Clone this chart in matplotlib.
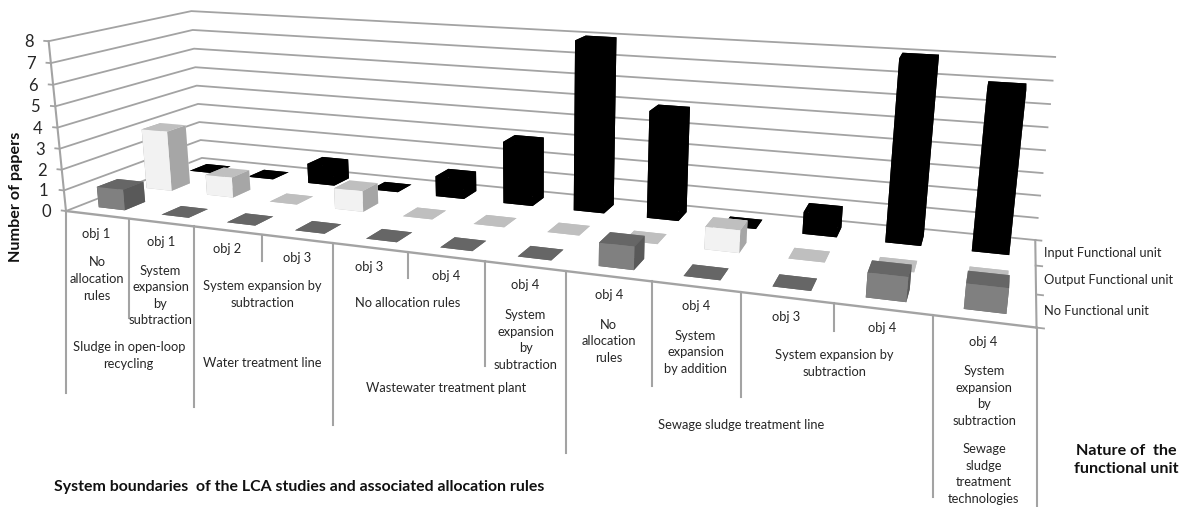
import numpy as np
import matplotlib
matplotlib.use("Agg")
from matplotlib import pyplot as plt
from matplotlib.lines import Line2D

plt.rcParams["font.family"] = ["Lato", "DejaVu Sans"]

W, H = 1185, 507

series_names = ["No Functional unit", "Output Functional unit", "Input Functional unit"]
no_unit = [1, 0, 0, 0, 0, 0, 0, 1, 0, 0, 1, 1]
output_unit = [3, 1, 0, 1, 0, 0, 0, 0, 1, 0, 0, 0]
input_unit = [0, 0, 1, 0, 1, 3, 8, 5, 0, 1, 8, 7]
objectives = ["obj 1", "obj 1", "obj 2", "obj 3", "obj 3", "obj 4",
              "obj 4", "obj 4", "obj 4", "obj 3", "obj 4", "obj 4"]
y_ticks = list(range(9))

# faces in bar3d order: bottom, top, front, back, left, right
grey_faces = ["#666666", "#666666", "#808080", "#808080", "#595959", "#595959"]
white_faces = ["#bfbfbf", "#bfbfbf", "#f2f2f2", "#f2f2f2", "#a6a6a6", "#a6a6a6"]
black_faces = ["#000000"] * 6
line_col = "#a3a3a3"
text_col = "#262626"

bar_w = 0.42
bar_d = 0.42
# front-left and front-right of a bar in chart units, used for the view fit below
fl = (1 - bar_w) / 2
fr = (1 + bar_w) / 2

# where known points of the box sit in the picture: (cat, series, value) -> pixel
calib = [
    ((0, 0, 0), (66, 210)), ((0, 0, 8), (48, 42)), ((0, 3, 8), (191, 12)),
    ((0, 3, 0), (201, 158)), ((12, 3, 0), (1035.7, 240)), ((12, 3, 8), (1055, 60)),
    ((12, 0, 0), (1035.7, 328.3)), ((3, 0, 0), (262.3, 235)), ((6, 0, 0), (485, 262.7)),
    ((9, 0, 0), (740.3, 293.3)), ((12, 1, 0), (1035.7, 294)), ((12, 2, 0), (1035.7, 266)),
    ((12, 3, 4), (1045, 152.3)), ((0, 3, 4), (196, 86)),
    ((0 + fl, fl, 0), (98, 207)), ((0 + fr, fl, 0), (124, 209)), ((0 + fl, fl, 1), (98, 187)),
    ((0 + fl, 1 + fl, 0), (148, 187)), ((0 + fr, 1 + fl, 0), (171, 190)), ((0 + fl, 1 + fl, 3), (143, 130)),
    ((6 + fl, 2 + fl, 0), (575, 210)), ((6 + fr, 2 + fl, 0), (604, 212.7)), ((6 + fl, 2 + fl, 8), (576, 43)),
    ((10 + fl, 2 + fl, 0), (886.7, 242.3)), ((10 + fr, 2 + fl, 0), (920, 246)),
    ((10 + fl, 2 + fl, 8), (900, 57)), ((10 + fr, 2 + fl, 8), (937, 58)),
    ((11 + fl, 2 + fl, 0), (973, 252)), ((11 + fr, 2 + fl, 0), (1007, 255)),
    ((11 + fl, 2 + fl, 7), (988, 84)), ((11 + fr, 2 + fl, 7), (1024, 87)),
    ((11 + fl, fl, 0), (965, 309)), ((11 + fr, fl, 0), (1005.7, 314)),
    ((11 + fl, fl, 1), (968, 285)), ((11 + fr, fl, 1), (1008, 288)),
]

fig = plt.figure(figsize=(W / 100, H / 100), dpi=100)
# Axes3D always keeps a square box, so make it as wide as the figure
ax = fig.add_axes([0, (1 - W / H) / 2, 1, W / H], projection="3d", computed_zorder=False)
ax.apply_aspect()
ax.set_axis_off()

to_2d = ax.transData.inverted()
rows = []
for (x, y, z), (px, py) in calib:
    u, v = to_2d.transform((px, H - py))
    rows.append([x, y, z, 1, 0, 0, 0, 0, -u * x, -u * y, -u * z, -u])
    rows.append([0, 0, 0, 0, x, y, z, 1, -v * x, -v * y, -v * z, -v])
P = np.linalg.svd(np.array(rows))[2][-1].reshape(3, 4)
if P[2, 3] < 0:
    P = -P
M = np.array([P[0], P[1], [0, 0, 0, -1], P[2]])
ax.get_proj = lambda: M


def to_px(x, y, z):
    w = P @ np.array([x, y, z, 1])
    u, v = ax.transData.transform(w[:2] / w[2])
    return u, H - v


def label(px, py, s, **kw):
    kw.setdefault("fontsize", 9.3)
    kw.setdefault("color", text_col)
    kw.setdefault("ha", "center")
    fig.text(px / W, 1 - py / H, s, va="center", linespacing=1.45, **kw)


# walls and floor
for k in y_ticks:
    ax.plot([-0.07, 0, 0, 12], [0, 0, 3, 3], [k, k, k, k], color=line_col, lw=1.3, zorder=1)
    px, py = to_px(0, 0, k)
    label(px - 20, py + 1, str(k), fontsize=12)
ax.plot([0, 0], [0, 0], [0, 8], color=line_col, lw=1.5, zorder=1)
ax.plot([0, 12], [0, 0], [0, 0], color=line_col, lw=1.7, zorder=2)
ax.plot([12, 12], [0, 3], [0, 0], color=line_col, lw=1.5, zorder=2)
for j in range(4):
    ax.plot([12, 12.07], [j, j], [0, 0], color=line_col, lw=1.3, zorder=2)

# bars, back series first
all_series = [(2, input_unit, black_faces), (1, output_unit, white_faces), (0, no_unit, grey_faces)]
for s, values, faces in all_series:
    for i, v in enumerate(values):
        ax.bar3d(i + fl, s + fl, 0, bar_w, bar_d, v,
                 color=faces, shade=False, zorder=10 + (2 - s) * 20 + i)

# multi-level category separators under the front edge
sep_bottom = [393, 318, 407, 261, 425, 278, 366, 453, 386, 397, 331, 497, 507]
for i, bottom in enumerate(sep_bottom):
    px, py = to_px(i, 0, 0)
    fig.add_artist(Line2D([px, px], [H - py, H - bottom], transform=None,
                          color=line_col, lw=1.5))

obj_x = [96.5, 161, 227, 297.5, 369.5, 446, 525, 608.7, 695.7, 786, 882, 983]
obj_y = [234, 241.7, 249.3, 257.7, 266.7, 276, 285, 295, 306, 317, 328, 341.7]
for px, py, s in zip(obj_x, obj_y, objectives):
    label(px, py, s)

rule_labels = [
    (97, 279, "No\nallocation\nrules"),
    (160.5, 295.7, "System\nexpansion\nby\nsubtraction"),
    (262.5, 294.3, "System expansion by\nsubtraction"),
    (408, 302.7, "No allocation rules"),
    (525.7, 340, "System\nexpansion\nby\nsubtraction"),
    (608.7, 341.3, "No\nallocation\nrules"),
    (695.7, 352.3, "System\nexpansion\nby addition"),
    (834, 363.3, "System expansion by\nsubtraction"),
    (984, 396, "System\nexpansion\nby\nsubtraction"),
]
for px, py, s in rule_labels:
    label(px, py, s)

group_labels = [
    (128.7, 355.3, "Sludge in open-loop\nrecycling"),
    (262, 363.3, "Water treatment line"),
    (446, 388.3, "Wastewater treatment plant"),
    (741, 425, "Sewage sludge treatment line"),
    (984, 474, "Sewage\nsludge\ntreatment\ntechnologies"),
]
for px, py, s in group_labels:
    label(px, py, s)

for py, s in zip([310.7, 280, 253.3], series_names):
    label(1044, py, s, ha="left")

label(1126.7, 460, "Nature of  the\nfunctional unit", fontweight="bold", fontsize=11.6, color="#111111")
label(54, 486.7, "System boundaries  of the LCA studies and associated allocation rules",
      ha="left", fontweight="bold", fontsize=11.4, color="#111111")
label(16, 197, "Number of papers", rotation=90, fontweight="bold", fontsize=11.6, color="#111111")

fig.savefig("out.png", dpi=100)
